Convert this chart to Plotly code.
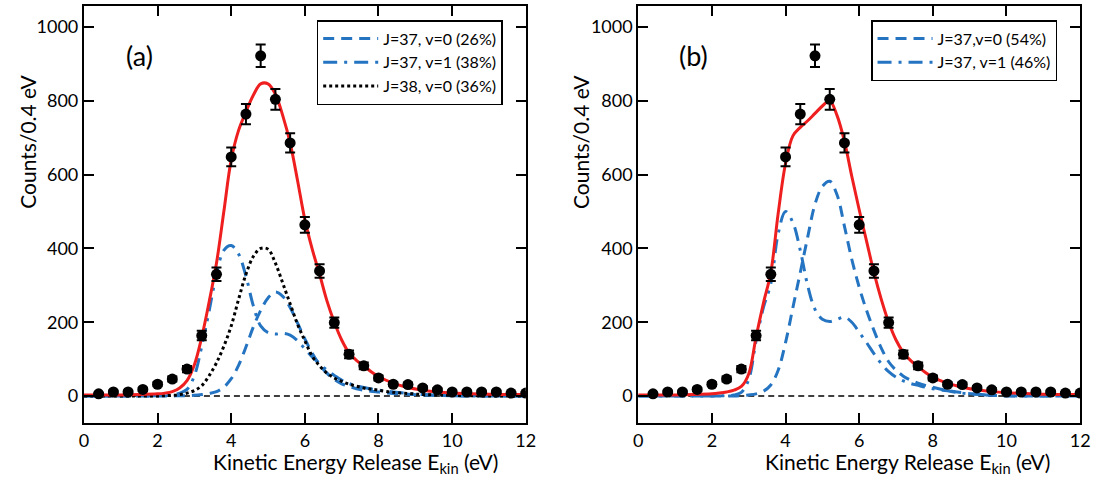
import plotly.graph_objects as go

# ---------------- data ----------------
E_DATA = [0.4, 0.8, 1.2, 1.6, 2.0, 2.4, 2.8, 3.2, 3.6, 4.0, 4.4, 4.8, 5.2, 5.6, 6.0,
          6.4, 6.8, 7.2, 7.6, 8.0, 8.4, 8.8, 9.2, 9.6, 10.0, 10.4, 10.8, 11.2, 11.6, 12.0]
COUNTS = [6, 11, 11, 18, 32, 46, 73, 164, 330, 648, 764, 922, 804, 686, 464,
          339, 199, 113, 82, 49, 32, 31, 22, 17, 11, 11, 11, 11, 8, 8]
COUNT_ERR = [2.4, 3.3, 3.3, 4.2, 5.7, 6.8, 8.5, 12.8, 18.2, 25.5, 27.6, 30.4, 28.4, 26.2, 21.5,
             18.4, 14.1, 10.6, 9.1, 7.0, 5.7, 5.6, 4.7, 4.1, 3.3, 3.3, 3.3, 3.3, 2.8, 2.8]

E_FIT = [0.0, 0.5, 1.0, 1.5, 2.0, 2.2, 2.4, 2.6, 2.8, 3.0, 3.2, 3.4, 3.6, 3.8, 4.0, 4.2, 4.4,
         4.6, 4.8, 5.0, 5.2, 5.4, 5.6, 5.8, 6.0, 6.2, 6.4, 6.6, 6.8, 7.0, 7.2, 7.4, 7.6, 7.8,
         8.0, 8.4, 8.8, 9.2, 9.6, 10.0, 10.5, 11.0, 11.5, 12.0]

# panel (a)
FIT_A_TOTAL = [3, 3, 3, 4, 6, 8, 12, 22, 42, 85, 160, 255, 360, 500, 640, 720, 770,
               815, 846, 846, 818, 760, 686, 585, 478, 398, 330, 258, 200, 152, 117, 97, 82, 66,
               53, 35, 23, 16, 11, 8, 6, 5, 4, 4]
FIT_A_J37V0 = [0, 0, 0, 0, 0, 0, 0, 1, 1, 2, 4, 7, 12, 24, 47, 83, 133,
               187, 232, 266, 282, 270, 240, 198, 155, 116, 85, 62, 45, 33, 26, 20, 16, 13,
               11, 7, 5, 3, 2, 1, 0, 0, 0, 0]
FIT_A_J37V1 = [0, 0, 0, 0, 1, 2, 4, 8, 18, 55, 135, 230, 330, 395, 408, 385, 325,
               245, 190, 172, 168, 170, 165, 150, 128, 106, 88, 70, 56, 43, 34, 28, 23, 19,
               16, 11, 7, 4, 2, 1, 0, 0, 0, 0]
FIT_A_J38V0 = [0, 0, 0, 0, 0, 1, 2, 4, 8, 15, 28, 55, 90, 135, 190, 262, 330,
               378, 400, 398, 360, 306, 250, 195, 150, 108, 82, 62, 49, 40, 32, 27, 22, 19,
               16, 10, 7, 4, 3, 2, 1, 0, 0, 0]

# panel (b)
FIT_B_TOTAL = [3, 3, 3, 4, 6, 8, 11, 16, 26, 60, 160, 252, 335, 495, 630, 705, 728,
               746, 766, 786, 800, 760, 690, 595, 505, 420, 335, 262, 200, 152, 118, 96, 79, 64,
               51, 35, 24, 17, 12, 9, 7, 5, 4, 4]
FIT_B_J37V0 = [0, 0, 0, 0, 0, 0, 0, 0, 1, 3, 6, 13, 30, 70, 145, 240, 335,
               430, 520, 568, 582, 545, 460, 370, 295, 232, 178, 130, 93, 70, 54, 43, 35, 29,
               24, 15, 9, 5, 2, 1, 0, 0, 0, 0]
FIT_B_J37V1 = [0, 0, 0, 0, 0, 1, 1, 3, 10, 45, 150, 240, 305, 440, 500, 470, 395,
               300, 235, 208, 202, 208, 214, 200, 173, 145, 115, 88, 66, 51, 41, 34, 29, 24,
               20, 14, 8, 5, 2, 1, 0, 0, 0, 0]

LEGEND_A = ["J=37, v=0 (26%)", "J=37, v=1 (38%)", "J=38, v=0 (36%)"]
LEGEND_B = ["J=37,v=0 (54%)", "J=37, v=1 (46%)"]

X_TICKS = [0, 2, 4, 6, 8, 10, 12]
Y_TICKS = [0, 200, 400, 600, 800, 1000]

# ---------------- style ----------------
FONT = "Lato, 'Open Sans', sans-serif"
RED = "#ef1f1f"
BLUE = "#2474c2"
W, H = 1100, 483

fig = go.Figure()


def add_panel(xa, ya, total, comps, legend):
    for name, y, color, dash in comps:
        fig.add_trace(go.Scatter(x=E_FIT, y=y, mode="lines", name=name, xaxis=xa, yaxis=ya,
                                 line=dict(color=color, width=3, dash=dash, shape="spline"),
                                 legend=legend))
    fig.add_trace(go.Scatter(x=E_FIT, y=total, mode="lines", showlegend=False, xaxis=xa, yaxis=ya,
                             line=dict(color=RED, width=3, shape="spline")))
    fig.add_trace(go.Scatter(x=E_DATA, y=COUNTS, mode="markers", showlegend=False,
                             xaxis=xa, yaxis=ya,
                             marker=dict(color="black", size=11),
                             error_y=dict(type="data", array=COUNT_ERR, color="black",
                                          thickness=2, width=5)))


DASH = "11px,7px"
DASHDOT = "14px,7px,3px,7px"
DOT = "3px,3px"

add_panel("x", "y", FIT_A_TOTAL,
          [(LEGEND_A[0], FIT_A_J37V0, BLUE, DASH),
           (LEGEND_A[1], FIT_A_J37V1, BLUE, DASHDOT),
           (LEGEND_A[2], FIT_A_J38V0, "black", DOT)], "legend")
add_panel("x2", "y2", FIT_B_TOTAL,
          [(LEGEND_B[0], FIT_B_J37V0, BLUE, DASH),
           (LEGEND_B[1], FIT_B_J37V1, BLUE, DASHDOT)], "legend2")

ydom = [(H - 423) / H, (H - 6) / H]
axis_common = dict(showgrid=False, zeroline=False, showline=True, linecolor="black",
                   linewidth=2, mirror="ticks", ticks="inside", ticklen=10, tickwidth=1.5,
                   tickcolor="black", tickfont=dict(family=FONT, size=18, color="black"))

legend_common = dict(y=(H - 20) / H, xanchor="left", yanchor="top",
                     bordercolor="black", borderwidth=1.5, bgcolor="white",
                     font=dict(family=FONT, size=16), itemwidth=55)

fig.update_layout(
    width=W, height=H, margin=dict(l=0, r=0, t=0, b=0),
    paper_bgcolor="white", plot_bgcolor="white",
    font=dict(family=FONT, color="black"),
    xaxis=dict(domain=[80 / W, 528 / W], range=[0, 12], tickvals=X_TICKS, anchor="y", **axis_common),
    yaxis=dict(domain=ydom, range=[-73, 1057], tickvals=Y_TICKS, anchor="x", **axis_common),
    xaxis2=dict(domain=[642 / W, 1090 / W], range=[0, 12], tickvals=X_TICKS, anchor="y2", **axis_common),
    yaxis2=dict(domain=ydom, range=[-73, 1057], tickvals=Y_TICKS, anchor="x2", **axis_common),
    legend=dict(x=316 / W, **legend_common),
    legend2=dict(x=878 / W, **legend_common),
)

for xr, yr in (("x", "y"), ("x2", "y2")):
    fig.add_shape(type="line", xref=f"{xr} domain", yref=yr, x0=0, x1=1, y0=0, y1=0,
                  line=dict(color="black", width=1.5, dash="6px,4px"), layer="below")

ann = [
    dict(text="(a)", x=136 / W, y=(H - 56) / H, size=27, angle=0),
    dict(text="(b)", x=698 / W, y=(H - 56) / H, size=27, angle=0),
    dict(text="Kinetic Energy Release E<sub>kin</sub> (eV)", x=355 / W, y=(H - 463) / H, size=21, angle=0),
    dict(text="Kinetic Energy Release E<sub>kin</sub> (eV)", x=915 / W, y=(H - 463) / H, size=21, angle=0),
    dict(text="Counts/0.4 eV", x=22 / W, y=(H - 142) / H, size=21, angle=-90),
    dict(text="Counts/0.4 eV", x=583 / W, y=(H - 142) / H, size=21, angle=-90),
]
for a in ann:
    fig.add_annotation(text=a["text"], x=a["x"], y=a["y"], xref="paper", yref="paper",
                       xanchor="center", yanchor="middle", showarrow=False, textangle=a["angle"],
                       font=dict(family=FONT, size=a["size"], color="black"))

fig.write_html("out.html")
